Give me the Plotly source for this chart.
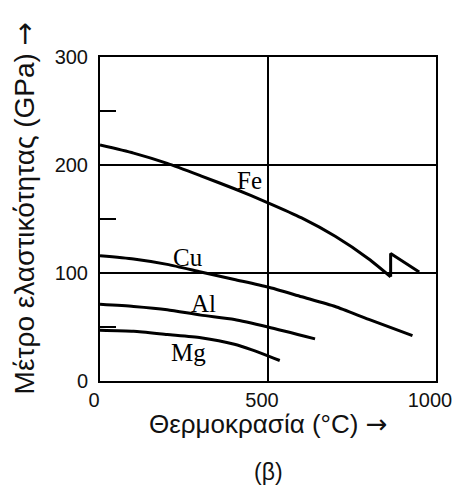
import plotly.graph_objects as go

# Data (temperature °C, modulus GPa)
fe_t = [0, 100, 200, 300, 400, 500, 600, 700, 800, 865]
fe_e = [218.5, 211, 201.5, 190, 178, 165, 151, 134, 113, 96.5]
fe_jump_t = [865, 865, 950]
fe_jump_e = [96.5, 118, 101]
cu_t = [0, 100, 200, 300, 400, 500, 600, 700, 800, 930]
cu_e = [116, 113, 108, 101, 94, 87, 78, 69, 57, 42]
al_t = [0, 100, 200, 300, 400, 500, 640]
al_e = [71, 69, 66, 61, 57, 50, 39]
mg_t = [0, 100, 200, 300, 400, 450, 535]
mg_e = [47, 46, 43, 40, 34, 29, 19]

labels = ["Fe", "Cu", "Al", "Mg"]
label_t = [446, 262, 307, 262]
label_e = [186, 114, 72, 26]

x_ticks = [0, 500, 1000]
y_ticks = [0, 100, 200, 300]
y_minor = [50, 150, 250]

fig = go.Figure()
for t, e in [(fe_t, fe_e), (cu_t, cu_e), (al_t, al_e), (mg_t, mg_e)]:
    fig.add_trace(go.Scatter(x=t, y=e, mode="lines",
                             line=dict(color="black", width=3, shape="spline", smoothing=0.6),
                             showlegend=False, hoverinfo="skip"))
fig.add_trace(go.Scatter(x=fe_jump_t, y=fe_jump_e, mode="lines",
                         line=dict(color="black", width=3),
                         showlegend=False, hoverinfo="skip"))

for name, t, e in zip(labels, label_t, label_e):
    fig.add_annotation(x=t, y=e, text=name, showarrow=False,
                       font=dict(family="Liberation Serif", size=25, color="black"))

ARROW = '<span style="font-family:DejaVu Sans">→</span>'

fig.add_annotation(xref="paper", yref="paper", x=0.5, y=-0.133, yanchor="middle",
                   text="Θερμοκρασία (°C) " + ARROW, showarrow=False,
                   font=dict(family="Liberation Sans", size=26, color="#111"))
fig.add_annotation(xref="paper", yref="paper", x=0.5, y=-0.282, yanchor="middle",
                   text="(β)", showarrow=False,
                   font=dict(family="Liberation Sans", size=23, color="#111"))
fig.add_annotation(xref="paper", yref="paper", x=-0.222, xanchor="center",
                   y=0.534, yanchor="middle", textangle=-90,
                   text="Μέτρο ελαστικότητας (GPa) " + ARROW, showarrow=False,
                   font=dict(family="Liberation Sans", size=28, color="#111"))

fig.update_layout(
    width=454, height=486,
    margin=dict(l=100, r=18, t=57, b=105, autoexpand=False),
    paper_bgcolor="white", plot_bgcolor="white",
    font=dict(family="Liberation Sans", size=20, color="#111"),
    xaxis=dict(range=[0, 1000], tickvals=x_ticks, ticks="", showgrid=True,
               gridcolor="black", gridwidth=1.5, zeroline=False,
               showline=True, linecolor="black", linewidth=2, mirror=True,
               ticklabelstandoff=0, ticklabelshift=-6, automargin=False),
    yaxis=dict(range=[0, 300], tickvals=y_ticks, ticks="", showgrid=True,
               gridcolor="black", gridwidth=1.5, zeroline=False,
               showline=True, linecolor="black", linewidth=2, mirror=True,
               ticklabelstandoff=6, automargin=False,
               minor=dict(tickvals=y_minor, ticks="inside", ticklen=16,
                          tickwidth=2, tickcolor="black", showgrid=False)),
)

fig.write_html("out.html")
